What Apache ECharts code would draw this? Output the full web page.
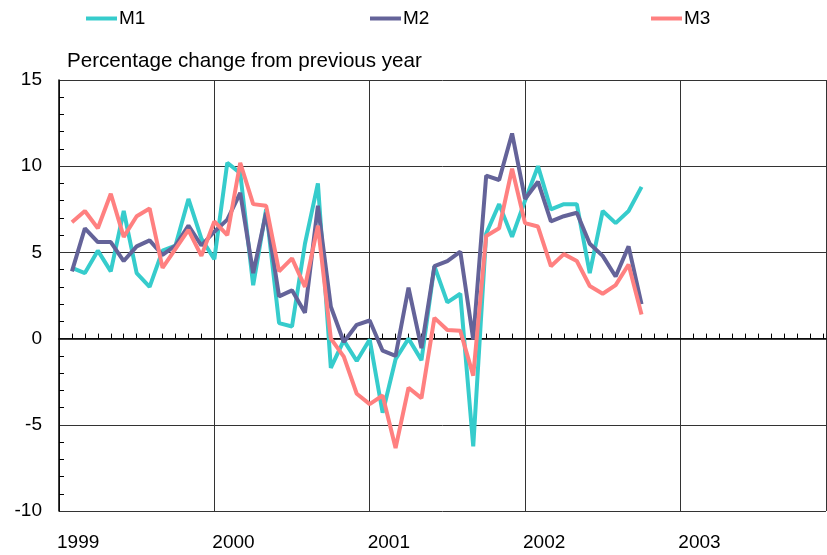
<!DOCTYPE html>
<html>
<head>
<meta charset="utf-8">
<script src="https://cdn.jsdelivr.net/npm/echarts@6/dist/echarts.min.js"></script>
<style>
html, body { margin: 0; padding: 0; background: #fff; }
#main { width: 827px; height: 555px; }
</style>
</head>
<body>
<div id="main"></div>
<script>
// monthly data, first point = Jan 1999 (plotted at end of month)
var years = ['1999', '2000', '2001', '2002', '2003']

var m1 = [4.1, 3.8, 5.1, 3.9, 7.4, 3.8, 3.0, 5.1, 5.4, 8.1, 5.8, 4.6,
	10.2, 9.6, 3.1, 7.5, 0.9, 0.7, 5.5, 9.0, -1.7, -0.1, -1.3, -0.05,
	-4.3, -1.2, 0.0, -1.25, 4.2, 2.1, 2.6, -6.25, 6.1, 7.8, 5.9, 8.0,
	10.0, 7.5, 7.8, 7.8, 3.8, 7.4, 6.7, 7.4, 8.8]
var m2 = [3.9, 6.4, 5.6, 5.6, 4.5, 5.35, 5.7, 4.85, 5.4, 6.55, 5.4, 6.2,
	6.9, 8.45, 3.8, 7.3, 2.45, 2.8, 1.5, 7.7, 1.85, -0.2, 0.8, 1.05,
	-0.7, -1.0, 2.95, -0.55, 4.2, 4.5, 5.05, -0.05, 9.45, 9.2, 11.9, 8.1,
	9.1, 6.8, 7.1, 7.3, 5.5, 4.8, 3.6, 5.35, 2.0]
var m3 = [6.75, 7.4, 6.4, 8.4, 5.9, 7.1, 7.55, 4.1, 5.2, 6.3, 4.8, 6.8,
	6.0, 10.2, 7.8, 7.7, 3.9, 4.65, 3.0, 6.55, 0.0, -1.05, -3.2, -3.8,
	-3.3, -6.35, -2.85, -3.45, 1.2, 0.5, 0.45, -2.15, 5.95, 6.4, 9.85, 6.7,
	6.5, 4.2, 4.9, 4.5, 3.05, 2.6, 3.1, 4.3, 1.4]

var toPoints = function (arr) {
	return arr.map(function (v, i) { return [i + 1, v] })
}

var font = 'Liberation Sans, Arial, sans-serif'
var gridColor = '#333'

var legendItem = function (name, left) {
	return {
		data: [name],
		left: left,
		top: 9,
		padding: 0,
		itemWidth: 31,
		itemHeight: 4,
		icon: 'rect',
		textStyle: { fontFamily: font, fontSize: 19, color: '#000', padding: [0, 0, 0, -3] }
	}
}

var myChart = echarts.init(document.getElementById('main'))
var option = {
	animation: false,
	title: {
		text: 'Percentage change from previous year',
		left: 62,
		top: 46,
		textStyle: { fontFamily: font, fontSize: 20.6, fontWeight: 'normal', color: '#000' }
	},
	legend: [legendItem('M1', 86), legendItem('M2', 370), legendItem('M3', 651)],
	grid: { left: 59, right: 1, top: 80, bottom: 44, containLabel: false },
	xAxis: {
		type: 'value',
		min: 0,
		max: 59.25,
		interval: 12,
		axisLine: { lineStyle: { color: '#000', width: 1.5 } },
		axisTick: { show: false, inside: true },
		minorTick: { show: true, splitNumber: 12, length: 5, lineStyle: { color: '#000' } },
		splitLine: { show: true, lineStyle: { color: gridColor, width: 1 } },
		axisLabel: {
			showMaxLabel: false,
			fontFamily: font,
			fontSize: 19,
			color: '#000',
			align: 'left',
			margin: 22,
			padding: [0, 0, 0, -2],
			formatter: function (v) { return years[Math.round(v / 12)] }
		}
	},
	yAxis: {
		type: 'value',
		min: -10,
		max: 15,
		interval: 5,
		axisLine: { show: true, lineStyle: { color: '#000', width: 1.5 } },
		axisTick: { show: false, inside: true },
		minorTick: { show: true, splitNumber: 5, length: 5, lineStyle: { color: '#000' } },
		splitLine: { show: true, lineStyle: { color: gridColor, width: 1 } },
		axisLabel: { fontFamily: font, fontSize: 19, color: '#000', margin: 17 }
	},
	series: [
		{
			name: 'M1', type: 'line', data: toPoints(m1), symbol: 'none',
			lineStyle: { color: '#36cccc', width: 4 }, itemStyle: { color: '#36cccc' }
		},
		{
			name: 'M2', type: 'line', data: toPoints(m2), symbol: 'none',
			lineStyle: { color: '#646399', width: 4 }, itemStyle: { color: '#646399' }
		},
		{
			name: 'M3', type: 'line', data: toPoints(m3), symbol: 'none',
			lineStyle: { color: '#ff8080', width: 4 }, itemStyle: { color: '#ff8080' }
		}
	]
}
myChart.setOption(option)
</script>
</body>
</html>
